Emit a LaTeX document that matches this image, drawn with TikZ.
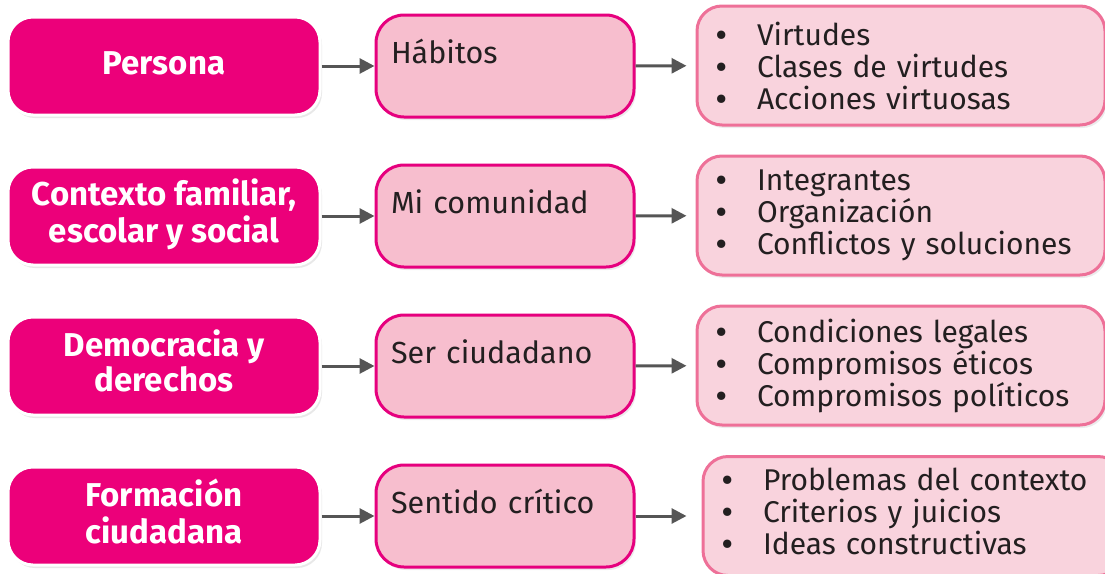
\documentclass[tikz,border=0pt]{standalone}
\usepackage{fontspec}
\setmainfont{Fira Sans}
\usetikzlibrary{arrows.meta,shadows}

\definecolor{temafill}{RGB}{236,0,122}
\definecolor{subfill}{RGB}{247,190,206}
\definecolor{subline}{RGB}{230,0,126}
\definecolor{listfill}{RGB}{249,211,221}
\definecolor{listline}{RGB}{238,112,152}
\definecolor{flecha}{RGB}{85,85,85}
\definecolor{texto}{RGB}{35,31,32}

\newcommand{\punto}{\makebox[41pt][l]{\bfseries\textbullet}}
\newcommand{\dosrenglones}[2]{\raisebox{6pt}{\begin{tabular}{@{}c@{}}#1\\ #2\end{tabular}}}

\begin{document}
\begin{tikzpicture}[x=1pt,y=-1pt,
    tema/.style={fill=temafill, draw=white, line width=3pt, rounded corners=25pt,
      minimum width=312pt, minimum height=98pt, text=white, align=center,
      font=\fontsize{33}{33.5}\selectfont\bfseries,
      drop shadow={opacity=0.18, shadow xshift=2pt, shadow yshift=-3pt}},
    subtema/.style={fill=subfill, draw=subline, line width=3pt, rounded corners=28pt,
      inner xsep=15pt, inner ysep=0pt, text width=228pt, text height=48pt, text depth=54pt,
      align=left, text=texto, font=\fontsize{30.5}{32}\selectfont,
      drop shadow={opacity=0.15, shadow xshift=2pt, shadow yshift=-3pt}},
    lista/.style={fill=listfill, draw=listline, line width=3pt, rounded corners=25pt,
      inner xsep=19pt, text width=370pt, minimum height=119pt,
      align=left, text=texto, font=\fontsize{30}{32}\selectfont,
      drop shadow={opacity=0.15, shadow xshift=2pt, shadow yshift=-3pt}},
    flechita/.style={draw=flecha, line width=3pt, -{Triangle[length=15pt,width=15pt]}}]
  \useasboundingbox (0,0) rectangle (1105,573);

  % fila 1
  \node[tema] (persona) at (164,66) {\raisebox{6pt}{Persona}};
  \node[subtema] (habitos) at (505,66) {H\'abitos};
  \node[lista] (virtudes) at (901,65.5) {\punto Virtudes\\ \punto Clases de virtudes\\ \punto Acciones virtuosas};
  \draw[flechita] (persona) -- (habitos);
  \draw[flechita, shorten >=9pt] (habitos) -- (virtudes);

  % fila 2
  \node[tema] (contexto) at (164,216) {\dosrenglones{Contexto familiar,}{escolar y social}};
  \node[subtema] (comunidad) at (505,216) {Mi comunidad};
  \node[lista] (integrantes) at (901,215.5) {\punto Integrantes\\ \punto Organizaci\'on\\ \punto Conflictos y soluciones};
  \draw[flechita] (contexto) -- (comunidad);
  \draw[flechita, shorten >=9pt] (comunidad) -- (integrantes);

  % fila 3
  \node[tema] (democracia) at (164,366) {\dosrenglones{Democracia y}{derechos}};
  \node[subtema] (ciudadano) at (505,366) {Ser ciudadano};
  \node[lista] (condiciones) at (901,365.5) {\punto Condiciones legales\\ \punto Compromisos \'eticos\\ \punto Compromisos pol\'iticos};
  \draw[flechita] (democracia) -- (ciudadano);
  \draw[flechita, shorten >=9pt] (ciudadano) -- (condiciones);

  % fila 4
  \node[tema] (formacion) at (164,516) {\dosrenglones{Formaci\'on}{ciudadana}};
  \node[subtema] (critico) at (505,516) {Sentido cr\'itico};
  \node[lista, text width=382pt] (problemas) at (913,516) {\punto Problemas del contexto\\ \punto Criterios y juicios\\ \punto Ideas constructivas\par\vspace*{10pt}};
  \draw[flechita] (formacion) -- (critico);
  \draw[flechita, shorten >=15pt] (critico) -- (problemas);
\end{tikzpicture}
\end{document}
